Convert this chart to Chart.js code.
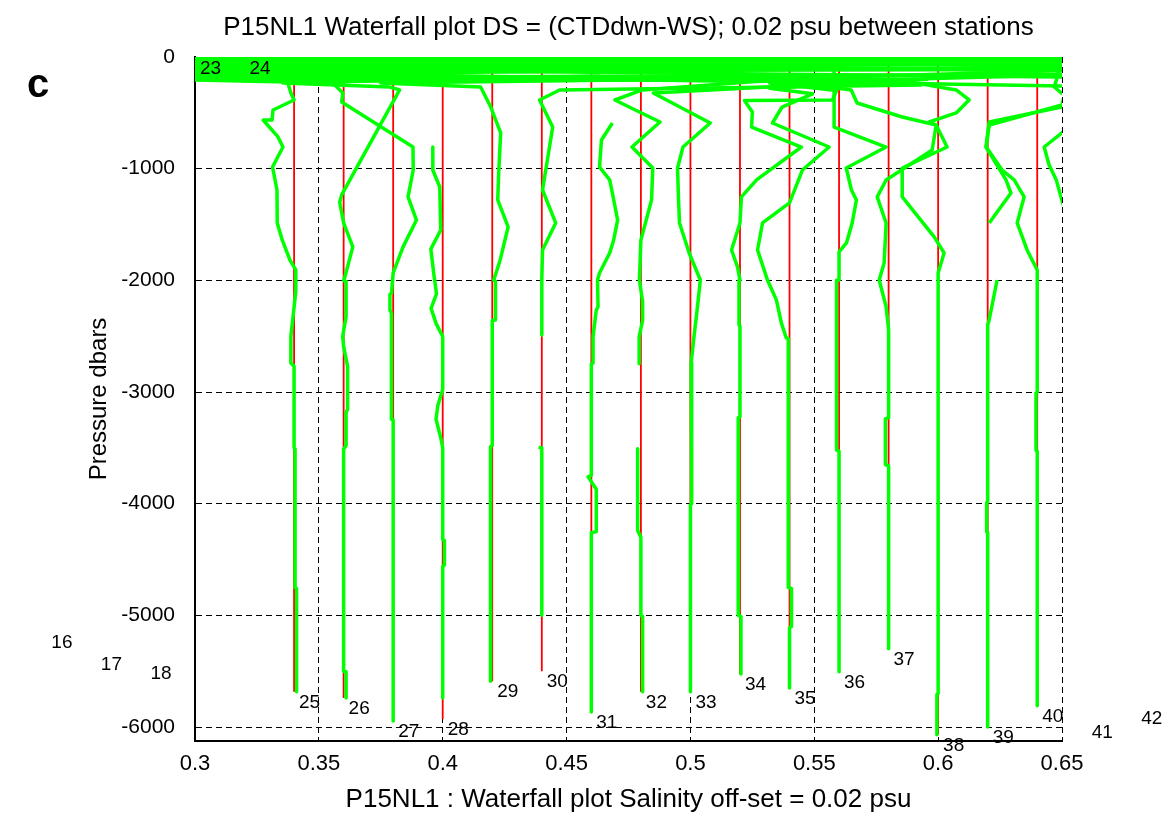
<!DOCTYPE html>
<html>
<head>
<meta charset="utf-8">
<title>P15NL1 waterfall plot</title>
<script src="https://cdn.jsdelivr.net/npm/chart.js@4.4.1/dist/chart.umd.min.js"></script>
<style>
  html, body { margin: 0; padding: 0; background: #fff; }
  canvas { display: block; }
</style>
</head>
<body>
<canvas id="waterfall" width="1170" height="814"></canvas>
<script>
// stations, their plotting offset (0.02 psu apart) and deepest pressure
const stations = [16, 17, 18, 23, 24, 25, 26, 27, 28, 29, 30, 31, 32, 33, 34, 35, 36, 37, 38, 39, 40, 41, 42];
const offsets = [0.24, 0.26, 0.28, 0.30, 0.32, 0.34, 0.36, 0.38, 0.40, 0.42, 0.44, 0.46,
                 0.48, 0.50, 0.52, 0.54, 0.56, 0.58, 0.60, 0.62, 0.64, 0.66, 0.68];
const bottoms = [-5150, -5340, -5420, -10, -5, -5685, -5740, -5945, -5930, -5590, -5500, -5865,
                 -5685, -5685, -5525, -5650, -5505, -5300, -6070, -6000, -5810, -5955, -5830];

const xTicks = [0.3, 0.35, 0.4, 0.45, 0.5, 0.55, 0.6, 0.65];
const yTicks = [0, -1000, -2000, -3000, -4000, -5000, -6000];

// DS = CTDdwn - WS per station: pressure (dbar) and salinity difference (psu), null = no data
const pres16 = [0, -15, -35, -55, -75, -150, -5150];
const dsal16 = [0, 0.46, 0, 0.46, 0, 0, 0];
const pres17 = [-90, -110, -130, -250, -5340];
const dsal17 = [0, 0.44, 0, 0, 0];
const pres18 = [-40, -60, -100, -300, -5420];
const dsal18 = [0, 0.42, 0, 0, 0];
const pres23 = [0, -5, -10];
const dsal23 = [0, 0.05, 0];
const pres24 = [0, -5];
const dsal24 = [0.2, 0];
const pres25 = [-150, -188, -206, -233, -322, -385, -475, -564, -564, -716, -806, -985, -1191, -1486, -1638,
                -1817, -1907, -2100, -2240, -2500, -2740, -2770, -3500, -3510, -4750, -4760, -5685];
const dsal25 = [0.353, -0.045, 0.0415, -0.0025, -0.0013, 0, -0.0085, -0.0089, -0.0125, -0.0065, -0.0045, -0.0087, -0.0069, -0.0068, -0.0048,
                -0.0017, 0.0007, 0.0007, 0, -0.0013, -0.0013, 0, 0, 0.0004, 0.0004, 0.001, 0.001];
const pres26 = [-170, -233, -269, -295, -1235, -1300, -1486, -1700, -1970, -2003, -2010, -2325, -2503, -2592,
                -2770, -3154, -3184, -3480, -3510, -5500, -5505, -5740];
const dsal26 = [0.1033, -0.0245, 0.0186, 0.0226, -0.0008, -0.0016, 0, 0.0037, 0.0005, 0, 0.001, 0.001, -0.0004, 0,
                0.0016, 0.0016, 0.001, 0.001, 0, 0, 0.001, 0.001];
const pres27 = [-179, -206, -233, -322, -403, -806, -1012, -1253, -1460, -1700, -1934, -2118, -2125, -2266,
                -2296, -3243, -3250, -5945];
const dsal27 = [0.084, -0.08, -0.0244, -0.0203, -0.0208, 0.008, 0.0081, 0.006, 0.0094, 0.004, 0, -0.0007, -0.0013, -0.0013,
                -0.0007, -0.0007, 0, 0];
const pres28 = [-806, -1012, -1164, -1549, -1720, -1960, -2120, -2251, -2385, -2503, -2976, -3124, -3243, -3420,
                -3500, -4320, -4330, -4550, -4560, -5740];
const dsal28 = [-0.004, -0.004, -0.0012, -0.0008, -0.0048, -0.0035, -0.0025, -0.0047, -0.0027, 0, 0, -0.002, -0.0027, -0.0007,
                0, 0, 0.0007, 0.0007, 0, 0];
const pres29 = [-190, -233, -269, -448, -680, -1038, -1280, -1522, -1817, -1997, -2010, -2355, -2360, -3480, -3490, -5590];
const dsal29 = [0.11, -0.045, -0.0047, -0.0006, 0.0034, 0.0026, 0.0022, 0.0064, 0.0032, 0.0006, 0.0013, 0.0013, 0, 0, -0.0007, -0.0007];
const pres30 = [-250, -295, -385, -627, -1191, -1486, -1728, -1997, -2490, null, -3494, -3500, -5000];
const dsal30 = [0.1535, 0.0072, -0.0009, 0.0044, 0.0003, 0.0056, 0.0003, 0, 0, null, -0.0013, 0, 0];
const pres31 = [-591, -743, -985, -1101, -1218, -1460, -1640, -1755, -1934, -1997, -2236, -2266, -2503, -2740,
                -2750, -3746, -3760, -3870, -4250, -4260, -5865];
const dsal31 = [0.0085, 0.0041, 0.0033, 0.0074, 0.0085, 0.0106, 0.009, 0.0074, 0.0033, 0.0025, 0.0027, 0.002, 0.0007, 0.0007,
                0, 0, -0.0013, 0.002, 0.002, 0, 0];
const pres32 = [-180, -215, -295, -385, -582, -806, -994, -1280, -1640, -1997, -2175, -2180, -2358, -2507, -2746, null,
                -3507, -4239, -4300, -5000, -5010, -5685];
const dsal32 = [-0.18, 0.049, 0.0006, -0.0105, 0.0077, -0.0036, 0.0048, 0.0043, 0, -0.0006, 0.0006, 0.0007, 0.0007, -0.0007, -0.0007, null,
                -0.0013, -0.0013, 0, 0, 0.0007, 0.0007];
const pres33 = [-160, -200, -322, -591, -806, -994, -1280, -1486, -1755, -1997, -2266, -2473, -2740, -2750, -4000, -4010, -5685];
const dsal33 = [-0.2, 0.091, -0.015, 0.008, -0.003, -0.0052, -0.0048, -0.0044, -0.0005, 0.004, 0.0027, 0.0016, 0.0003, 0.0005, 0.0005, 0, 0];
const pres34 = [-160, -233, -300, -385, -390, -492, -627, -806, -1101, -1253, -1486, -1728, -1880, -1997, -2000, -2400,
                -2410, -3224, -3230, -5000, -5010, -5525];
const dsal34 = [0.133, 0.012, 0.039, 0.0373, 0.0018, 0.005, 0.0047, 0.0248, 0.0067, 0.0006, 0, -0.0034, -0.001, 0, -0.0004, -0.0004,
                0, 0, -0.0007, -0.0007, 0.0004, 0.0004];
const pres35 = [-200, -280, -330, -448, -591, -806, -1012, -1307, -1486, -1728, -1997, -2175, -2381, -2516, -2520,
                -4750, -4760, -5100, -5110, -5650];
const dsal35 = [0.056, -0.008, 0.0093, -0.003, -0.0069, 0.016, 0.0052, 0, -0.0109, -0.0129, -0.0089, -0.0053, -0.0033, -0.0013, -0.0005,
                -0.0005, 0.0008, 0.0008, 0, 0];
const pres36 = [-10, -30, -627, -806, -994, -1191, -1280, -1486, -1665, -1746, -1997, -2000, -3520, -3530, -5505];
const dsal36 = [0.2, -0.002, -0.002, 0.019, 0.0029, 0.005, 0.007, 0.0053, 0.003, 0, 0, -0.001, -0.001, 0, 0];
const pres37 = [-60, -120, -200, -295, -412, -537, -609, -833, -1101, -1253, -1486, -1844, -1997, -2238, -2444,
                -3230, -3240, -3650, -3660, -5300];
const dsal37 = [-0.28, 0.073, -0.048, -0.0151, -0.0127, 0.0055, 0.0192, 0.0176, -0.001, -0.0046, -0.001, -0.0018, -0.0038, -0.001, 0,
                0, -0.0013, -0.0013, 0, 0];
const pres38 = [-90, -160, -233, -295, -385, -501, -582, -609, -806, -994, -1253, -1611, -1755, -1934, -5700, -5710, -6070];
const dsal38 = [0.053, -0.3, -0.0089, 0.0073, 0.0125, 0.0073, -0.0036, -0.0008, 0.0036, -0.0145, -0.0145, -0.0016, 0.0024, 0, 0,
                -0.0005, -0.0005];
const pres39 = [-130, -260, -448, -582, -806, -1101, -1218, -1486, null, -1997, -2355, -2400, -3985, -3990, -4253, -4260, -6000];
const dsal39 = [-0.32, 0.033, 0.03, 0.0006, -0.0007, 0.0074, 0.0094, 0.0006, null, 0.0038, 0.0006, 0, 0, -0.0004, -0.0004, 0, 0];
const pres40 = [-100, -180, -430, -609, -806, -1012, -1101, -1253, -1486, -1728, -1907, -3000, -3010, -3520, -3530, -5810];
const dsal40 = [-0.34, 0.0128, 0.01, -0.0194, -0.0206, -0.0142, -0.0093, -0.0053, -0.0081, -0.0041, 0, 0, -0.0005, -0.0005, 0, 0];
const pres41 = [-40, -116, -269, -322, -500, -654, -806, -967, -1101, -1325, -1500, -5955];
const dsal41 = [-0.43, -0.0111, -0.0131, -0.0103, 0.01, -0.0087, -0.0172, -0.0152, -0.0123, -0.0095, 0, 0];
const pres42 = [-20, -50, -5830];
const dsal42 = [-0.45, 0, 0];

const casts = [
  [pres16, dsal16], [pres17, dsal17], [pres18, dsal18], [pres23, dsal23], [pres24, dsal24],
  [pres25, dsal25], [pres26, dsal26], [pres27, dsal27], [pres28, dsal28], [pres29, dsal29],
  [pres30, dsal30], [pres31, dsal31], [pres32, dsal32], [pres33, dsal33], [pres34, dsal34],
  [pres35, dsal35], [pres36, dsal36], [pres37, dsal37], [pres38, dsal38], [pres39, dsal39],
  [pres40, dsal40], [pres41, dsal41], [pres42, dsal42]
];

const FONT = "'Liberation Sans', Arial, Helvetica, sans-serif";

const datasets = [];
stations.forEach((st, i) => {
  const [pres, dsal] = casts[i];
  datasets.push({
    label: "DS " + st,
    data: pres.map((p, k) => p === null ? { x: null, y: null } : { x: offsets[i] + dsal[k], y: p }),
    borderColor: "#00ff00",
    borderWidth: 3.5,
    borderJoinStyle: "round",
    order: 0
  });
  datasets.push({
    label: "zero " + st,
    data: [{ x: offsets[i], y: 0 }, { x: offsets[i], y: bottoms[i] }],
    borderColor: "#ff0000",
    borderWidth: 1.8,
    order: 1
  });
});

// station numbers at the foot of each cast, and the panel letter
const stationLabels = {
  id: "stationLabels",
  afterDraw(chart) {
    const { ctx, scales: { x, y } } = chart;
    ctx.save();
    ctx.fillStyle = "#000";
    ctx.textBaseline = "middle";
    ctx.textAlign = "left";
    ctx.font = "19px " + FONT;
    stations.forEach((st, i) => {
      ctx.fillText(String(st), x.getPixelForValue(offsets[i] + 0.002), y.getPixelForValue(bottoms[i]) + 11);
    });
    ctx.font = "bold 40px " + FONT;
    ctx.fillText("c", 27, 86);
    ctx.restore();
  }
};

new Chart(document.getElementById("waterfall"), {
  type: "scatter",
  data: { datasets },
  options: {
    responsive: false,
    animation: false,
    events: [],
    showLine: true,
    spanGaps: false,
    clip: 0,
    elements: { point: { radius: 0 } },
    layout: { padding: { left: 0, right: 108, top: 0, bottom: 0 } },
    plugins: {
      legend: { display: false },
      tooltip: { enabled: false },
      title: {
        display: true,
        fullSize: false,
        text: "P15NL1 Waterfall plot DS = (CTDdwn-WS); 0.02 psu between stations",
        color: "#000",
        font: { family: FONT, size: 26, weight: "normal", lineHeight: 1.2 },
        padding: { top: 12.4, bottom: 13.4 }
      }
    },
    scales: {
      x: {
        type: "linear",
        min: 0.3,
        max: 0.65,
        afterFit: s => { s.height = 73; },
        afterBuildTicks: s => { s.ticks = xTicks.map(v => ({ value: v })); },
        ticks: {
          callback: v => String(v),
          color: "#000",
          padding: 10,
          maxRotation: 0,
          font: { family: FONT, size: 22 }
        },
        grid: { color: "#000", lineWidth: 1, drawTicks: false },
        border: { display: true, color: "#000", width: 2, dash: [6, 4] },
        title: {
          display: true,
          text: "P15NL1 : Waterfall plot Salinity off-set = 0.02 psu",
          color: "#000",
          font: { family: FONT, size: 26, lineHeight: 1 },
          padding: { top: 0, bottom: 1 }
        }
      },
      y: {
        type: "linear",
        min: -6125,
        max: 0,
        afterFit: s => { s.width = 195; },
        afterBuildTicks: s => { s.ticks = yTicks.map(v => ({ value: v })); },
        ticks: {
          callback: v => String(v),
          color: "#000",
          padding: 20,
          font: { family: FONT, size: 21 }
        },
        grid: { color: "#000", lineWidth: 1, drawTicks: false },
        border: { display: true, color: "#000", width: 2, dash: [6, 4] },
        title: {
          display: true,
          text: "Pressure dbars",
          color: "#000",
          font: { family: FONT, size: 24, lineHeight: 1 },
          padding: { top: 87, bottom: 0 }
        }
      }
    }
  },
  plugins: [stationLabels]
});
</script>
</body>
</html>
